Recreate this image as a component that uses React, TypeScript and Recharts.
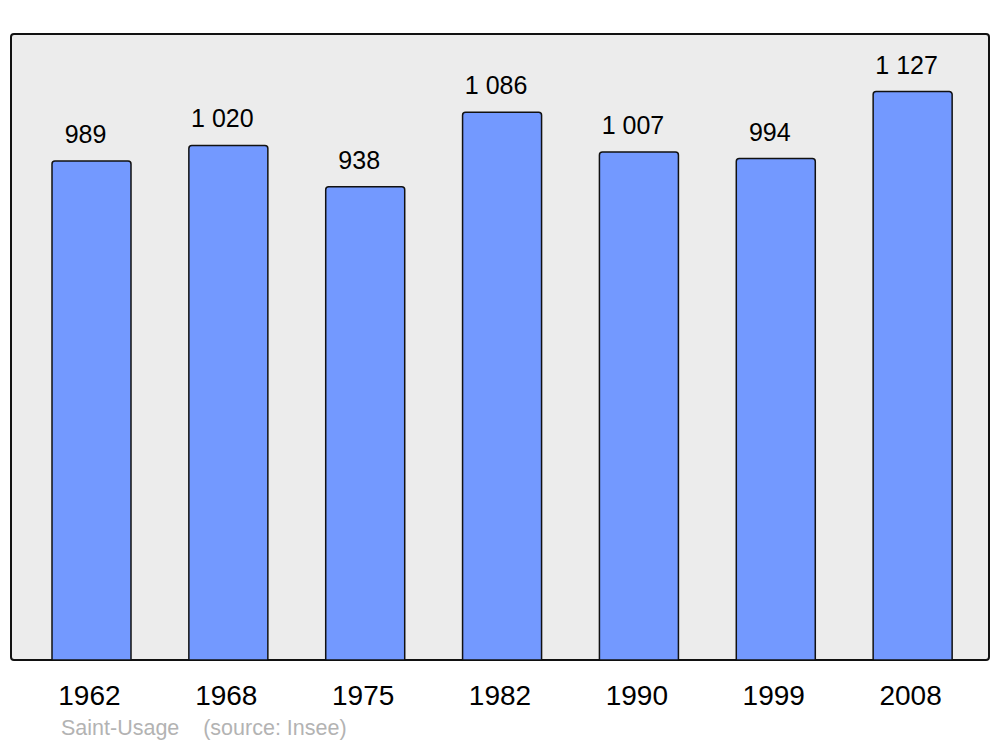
import React from "react";
import { BarChart, Bar, XAxis, YAxis, LabelList } from "recharts";

const YEARS = ["1962", "1968", "1975", "1982", "1990", "1999", "2008"];
const POPULATION = [989, 1020, 938, 1086, 1007, 994, 1127];

const FONT = "'Liberation Sans', Arial, sans-serif";

const fmt = (v: number) => String(v).replace(/\B(?=(\d{3})+(?!\d))/g, " ");

const data = YEARS.map((year, i) => ({ year, value: POPULATION[i] }));

function ValueLabel(props: any) {
  const { x, y, width, value } = props;
  return (
    <text x={x + width / 2 - 6} y={y - 18} textAnchor="middle" fontSize={25} fill="#000" fontFamily={FONT}>
      {fmt(value)}
    </text>
  );
}

function YearTick(props: any) {
  const { x, y, payload } = props;
  return (
    <text x={x - 2} y={y + 45} textAnchor="middle" fontSize={28} fill="#000" fontFamily={FONT}>
      {payload.value}
    </text>
  );
}

export default function App() {
  return (
    <div style={{ position: "absolute", left: 0, top: 0, width: 1000, height: 747, background: "#fff" }}>
      {/* grey frame behind the plot */}
      <div
        style={{
          position: "absolute",
          left: 10,
          top: 33,
          width: 980,
          height: 628,
          boxSizing: "border-box",
          border: "2.5px solid #111",
          borderRadius: 4,
          background: "#ececec",
        }}
      />
      <div style={{ position: "absolute", left: 0, top: 0 }}>
        <BarChart width={1000} height={747} data={data} margin={{ top: 34, right: 19, bottom: 57, left: 23 }}>
          <XAxis dataKey="year" height={30} axisLine={false} tickLine={false} tickSize={0} tickMargin={0} tick={<YearTick />} interval={0} />
          <YAxis hide domain={[0, 1241]} />
          <Bar dataKey="value" fill="#7399ff" stroke="#111" strokeWidth={1.5} barSize={79} radius={[3, 3, 0, 0]} isAnimationActive={false}>
            <LabelList dataKey="value" content={<ValueLabel />} />
          </Bar>
        </BarChart>
      </div>
      <div
        style={{
          position: "absolute",
          left: 61,
          top: 716,
          fontFamily: FONT,
          fontSize: 21.5,
          lineHeight: "24px",
          color: "#b3b3b3",
          whiteSpace: "pre",
        }}
      >
        {"Saint-Usage    (source: Insee)"}
      </div>
    </div>
  );
}
